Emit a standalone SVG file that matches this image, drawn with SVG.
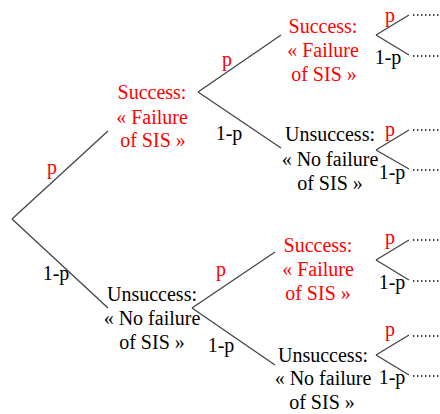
<svg xmlns="http://www.w3.org/2000/svg" width="440" height="414" viewBox="0 0 440 414" font-family="Liberation Serif, Times New Roman, serif" font-size="20">
<style>
text{text-anchor:middle;fill:#000}
.r{fill:#ff0000}
#connectors line{stroke:#444;stroke-width:1.3;fill:none}
#connectors line.dot{stroke:#000;stroke-width:1.6;stroke-dasharray:1.4 2.6}
</style>
<rect width="440" height="414" fill="#fff"/>
<g id="connectors">
<line x1="12" y1="219" x2="108" y2="131"/>
<line x1="12" y1="219" x2="108" y2="308"/>
<line x1="198" y1="92" x2="281" y2="35"/>
<line x1="198" y1="92" x2="281" y2="148"/>
<line x1="192" y1="308" x2="275" y2="252"/>
<line x1="192" y1="308" x2="275" y2="365"/>
<line x1="376" y1="35" x2="409" y2="15"/>
<line x1="376" y1="35" x2="409" y2="55"/>
<line x1="376" y1="150" x2="409" y2="130"/>
<line x1="376" y1="150" x2="409" y2="169"/>
<line x1="376" y1="260" x2="409" y2="240"/>
<line x1="376" y1="260" x2="409" y2="280"/>
<line x1="376" y1="355" x2="409" y2="335"/>
<line x1="376" y1="355" x2="409" y2="375"/>
<line class="dot" x1="413" y1="15" x2="440" y2="15"/>
<line class="dot" x1="413" y1="56" x2="440" y2="56"/>
<line class="dot" x1="413" y1="130" x2="440" y2="130"/>
<line class="dot" x1="413" y1="170" x2="440" y2="170"/>
<line class="dot" x1="413" y1="240" x2="440" y2="240"/>
<line class="dot" x1="413" y1="281" x2="440" y2="281"/>
<line class="dot" x1="413" y1="336" x2="440" y2="336"/>
<line class="dot" x1="413" y1="376" x2="440" y2="376"/>
<text class="r" x="52" y="174">p</text>
<text x="56" y="280">1-p</text>
<text class="r" x="227" y="66">p</text>
<text x="229" y="140">1-p</text>
<text class="r" x="221" y="276">p</text>
<text x="221" y="352">1-p</text>
<text class="r" x="390" y="22">p</text>
<text x="388" y="64">1-p</text>
<text class="r" x="390" y="136">p</text>
<text x="392" y="179">1-p</text>
<text class="r" x="390" y="244">p</text>
<text x="392" y="289">1-p</text>
<text class="r" x="390" y="336">p</text>
<text x="392" y="384">1-p</text>
</g>
<g id="n1">
<text class="r" x="152" y="99">Success:</text>
<text class="r" x="152" y="124">« Failure</text>
<text class="r" x="153" y="147">of SIS »</text>
</g>
<g id="n2">
<text x="152" y="301">Unsuccess:</text>
<text x="152" y="325">« No failure</text>
<text x="152" y="349">of SIS »</text>
</g>
<g id="n3">
<text class="r" x="323" y="33">Success:</text>
<text class="r" x="323" y="57">« Failure</text>
<text class="r" x="324" y="81">of SIS »</text>
</g>
<g id="n4">
<text x="330" y="141">Unsuccess:</text>
<text x="330" y="166">« No failure</text>
<text x="330" y="190">of SIS »</text>
</g>
<g id="n5">
<text class="r" x="318" y="252">Success:</text>
<text class="r" x="318" y="276">« Failure</text>
<text class="r" x="318" y="300">of SIS »</text>
</g>
<g id="n6">
<text x="323" y="362">Unsuccess:</text>
<text x="323" y="385">« No failure</text>
<text x="322" y="409">of SIS »</text>
</g>
</svg>
